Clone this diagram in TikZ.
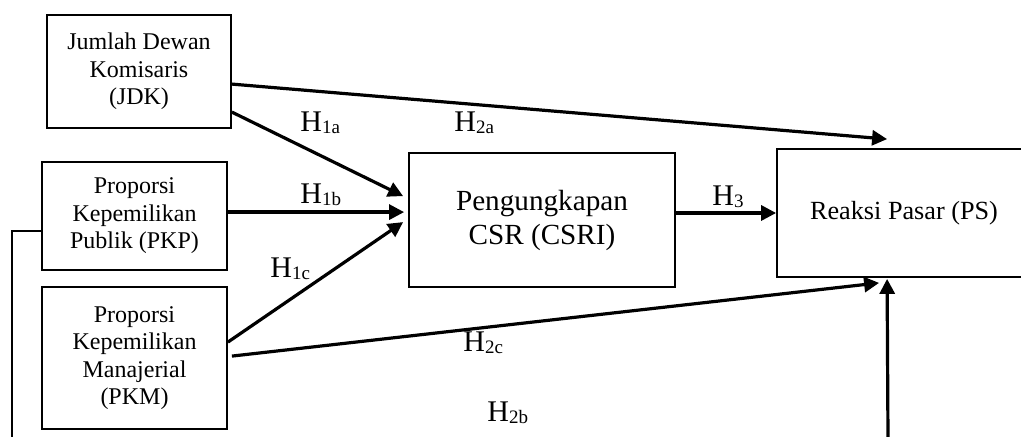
\documentclass[tikz,border=0pt]{standalone}
\usepackage{fontspec}
\setmainfont{Liberation Serif}
\usetikzlibrary{arrows.meta,calc}

\tikzset{
  varbox/.style={draw, line width=0.9pt, inner sep=0pt, align=center,
    font=\fontsize{12}{13.75}\selectfont},
  link/.style={line width=1.6pt, -{Triangle[length=7.5pt,width=7.5pt]}},
  plain/.style={line width=1.1pt},
  hyp/.style={anchor=base west, inner sep=0pt, font=\fontsize{15}{15}\selectfont}
}
\newcommand{\hy}[1]{H\raisebox{-1pt}{\fontsize{9.5}{9.5}\selectfont #1}}

\begin{document}
\begin{tikzpicture}[x=0.5pt,y=-0.5pt]
  \useasboundingbox (0,0) rectangle (1021,437);
  \clip (0,0) rectangle (1021,437);

  % variable boxes
  \node[varbox, minimum width=92pt, minimum height=56.5pt] (jdk) at (139,71.5)
    {Jumlah Dewan\\Komisaris\\(JDK)};
  \node[varbox, minimum width=92.5pt, minimum height=54pt] (pkp) at (134.5,216)
    {Proporsi\\Kepemilikan\\Publik (PKP)};
  \node[varbox, minimum width=92.5pt, minimum height=71pt] (pkm) at (134.5,358)
    {Proporsi\\Kepemilikan\\Manajerial\\(PKM)};
  \node[varbox, minimum width=133pt, minimum height=67pt,
        font=\fontsize{14.6}{17}\selectfont] (csri) at (542,220)
    {Pengungkapan\\CSR (CSRI)};
  \node[varbox, minimum width=127pt, minimum height=64pt,
        font=\fontsize{13.1}{15}\selectfont] (ps) at (904,213)
    {Reaksi Pasar (PS)};

  % free ends at the lower edge
  \coordinate (lowL) at (12,440);
  \coordinate (lowR) at (888,440);

  % hypothesis paths
  \draw[link] ($(jdk.north east)+(0,70)$) -- ($(ps.north west)+(111,-9)$);
  \draw[link] ($(jdk.north east)+(0,98)$) -- ($(csri.north west)+(-5,44)$);
  \draw[link] ($(pkp.north east)+(0,51)$) -- ($(csri.north west)+(-4,60)$);
  \draw[link] ($(pkm.north east)+(0,56)$) -- ($(csri.north west)+(-5,70)$);
  \draw[link] ($(pkm.north east)+(4,70)$) -- ($(ps.south west)+(103,5)$);
  \draw[link] (ps.west -| csri.east) -- (ps.west);
  \draw[link] (lowR) -- ($(ps.south west)+(111,1)$);
  \draw[plain] ($(pkp.north west)+(0,70)$) -| (lowL);

  % labels
  \node[hyp] (h1a) at (300,132) {\hy{1a}};
  \node[hyp] (h2a) at (454,132) {\hy{2a}};
  \node[hyp] (h1b) at (300,204) {\hy{1b}};
  \node[hyp] (h3)  at (712,206) {\hy{3}};
  \node[hyp] (h1c) at (270,278) {\hy{1c}};
  \node[hyp] (h2c) at (463,352) {\hy{2c}};
  \node[hyp] (h2b) at (487,422) {\hy{2b}};
\end{tikzpicture}
\end{document}
